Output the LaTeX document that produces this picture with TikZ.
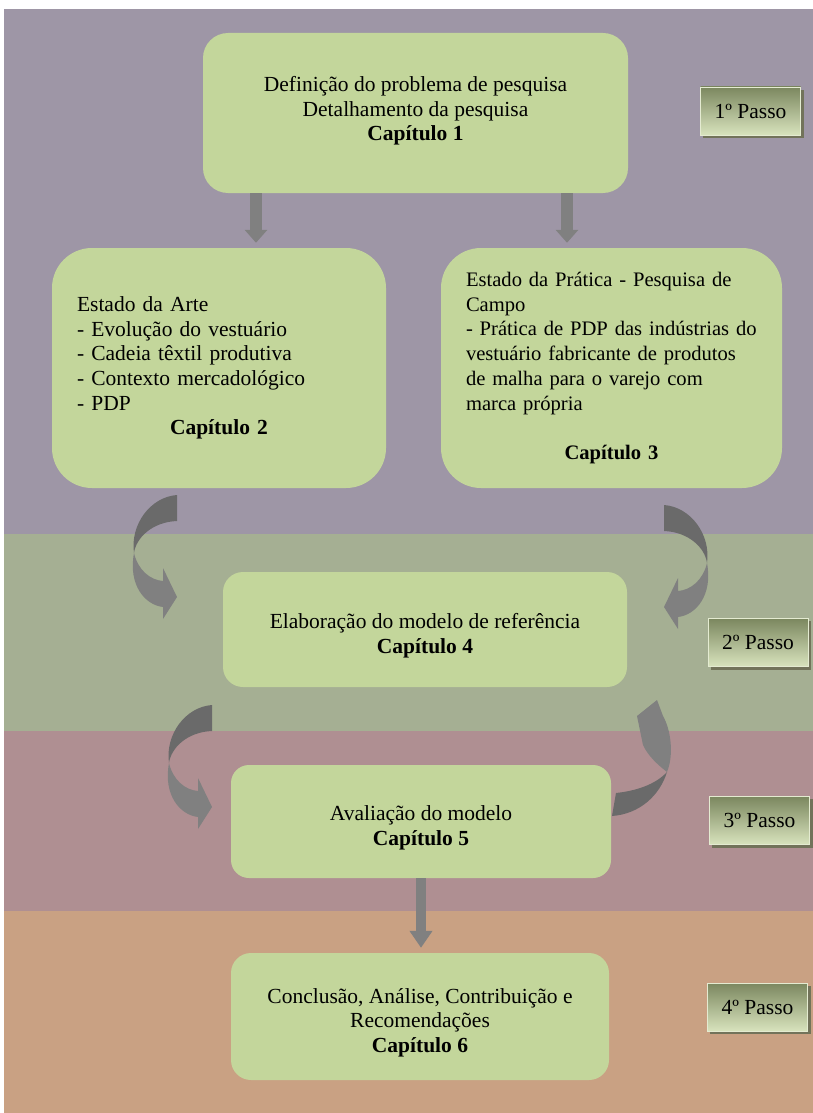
\documentclass[tikz,border=0pt]{standalone}
\usepackage{fontspec}
\setmainfont{Liberation Serif}
\usetikzlibrary{arrows.meta,backgrounds}

\definecolor{bandA}{HTML}{9E96A6}
\definecolor{bandB}{HTML}{A5AF93}
\definecolor{bandC}{HTML}{AF8F92}
\definecolor{bandD}{HTML}{C9A183}
\definecolor{boxfill}{HTML}{C3D69B}
\definecolor{arrowgray}{HTML}{808080}
\definecolor{arrowdark}{HTML}{6A6A6A}
\definecolor{steptop}{HTML}{7B875F}
\definecolor{stepbot}{HTML}{D8E3BD}
\definecolor{stepshadow}{HTML}{72735A}

% folded ribbon arrow in local coordinates (y grows downwards):
% light front part ending in the head, dark back part on top
\newcommand\ribbonarrow{%
  \fill[arrowgray] (-43,58) .. controls (-39,75) and (-27,85) .. (-14,86)
    -- (-14,73) -- (0,102) -- (-14,124) -- (-14,112)
    .. controls (-32,110) and (-49,90) .. (-43,58) -- cycle;
  \fill[arrowdark] (0,0) -- (0,26) .. controls (-25,27) and (-41,43) .. (-43,58)
    .. controls (-47,30) and (-27,2) .. (0,0) -- cycle;
}
% invisible struts that push a text block down or up inside its box
\newcommand\topstrut{\rule{0pt}{27pt}}
\newcommand\botstrut{\rule[-9pt]{0pt}{9pt}}

\begin{document}
\begin{tikzpicture}[x=1pt,y=-1pt,
  txt/.style={font=\fontsize{21.5}{24.7}\selectfont},
  smalltxt/.style={font=\fontsize{20.6}{24.7}\selectfont},
  stagebox/.style={txt, fill=boxfill, inner sep=0pt},
  passo/.style={txt, rectangle, minimum width=100pt, minimum height=48pt,
    inner sep=0pt, top color=steptop, bottom color=stepbot,
    draw=stepbot!70!white, line width=0.6pt},
  flow/.style={draw=arrowgray, line width=11.5pt, -{Triangle[width=22pt,length=13pt]}},
  flowlong/.style={draw=arrowgray, line width=10.5pt, -{Triangle[width=22pt,length=17pt]}},
]
\useasboundingbox (0,0) rectangle (813,1113);

% horizontal bands, one per step
\begin{scope}[on background layer]
  \fill[bandA] (4,9) rectangle (813,534);
  \fill[bandB] (4,534) rectangle (813,731);
  \fill[bandC] (4,731) rectangle (813,911);
  \fill[bandD] (4,911) rectangle (813,1113);
\end{scope}

% chapter boxes
\node[stagebox, rounded corners=25pt, minimum width=425pt, minimum height=160pt, align=center]
  (def) at (415.5,113)
  {Definição do problema de pesquisa\\Detalhamento da pesquisa\\\textbf{Capítulo 1}\botstrut};

\node[stagebox, rounded corners=40pt, minimum width=334pt, minimum height=240pt,
  text width=284pt, align=left] (arte) at (219,368)
  {Estado da Arte\\- Evolução do vestuário\\- Cadeia têxtil produtiva\\- Contexto mercadológico\\- PDP\par
   \centerline{\textbf{Capítulo 2}}};

\node[stagebox, smalltxt, rounded corners=40pt, minimum width=341pt, minimum height=240pt,
  text width=291pt, align=left] (prat) at (611.5,368)
  {Estado da Prática - Pesquisa de\\Campo\\\mbox{- Prática de PDP das indústrias do}\\vestuário fabricante de produtos\\de malha para o varejo com\\marca própria\par
   \vspace{24.7pt}\centerline{\textbf{Capítulo 3}}};

\node[stagebox, rounded corners=20pt, minimum width=404pt, minimum height=115pt, align=center]
  (modelo) at (425,629.5)
  {\topstrut Elaboração do modelo de referência\\\textbf{Capítulo 4}};

\node[stagebox, rounded corners=18pt, minimum width=380pt, minimum height=113pt, align=center]
  (aval) at (421,821.5)
  {\topstrut Avaliação do modelo\\\textbf{Capítulo 5}};

\node[stagebox, rounded corners=20pt, minimum width=378pt, minimum height=127pt, align=center]
  (conc) at (420,1016.5)
  {\topstrut Conclusão, Análise, Contribuição e\\Recomendações\\\textbf{Capítulo 6}};

% step labels
\node[passo] (p1) at (750.5,111) {1º Passo};
\node[passo] (p2) at (758,642.5) {2º Passo};
\node[passo] (p3) at (759.5,820.5) {3º Passo};
\node[passo] (p4) at (757.5,1007) {4º Passo};

\begin{scope}[on background layer]
  \foreach \p in {p1,p2,p3,p4}
    \fill[stepshadow] ([shift={(3pt,-3pt)}]\p.south west) rectangle ([shift={(3pt,-3pt)}]\p.north east);
\end{scope}

% straight arrows
\draw[flow] ([xshift=-159.5pt]def.south) -- ([xshift=37pt,yshift=5pt]arte.north);
\draw[flow] ([xshift=151.5pt]def.south) -- ([xshift=-44.5pt,yshift=5pt]prat.north);
\draw[flowlong] (aval.south) -- ([xshift=1pt,yshift=5pt]conc.north);

% curved arrows between the bands
\begin{scope}[shift={(177,495)}] \ribbonarrow \end{scope}
\begin{scope}[shift={(664,505)}, xscale=-1] \ribbonarrow \end{scope}
\begin{scope}[shift={(212,705)}] \ribbonarrow \end{scope}

% upward ribbon from the evaluation box back to the model
\fill[arrowgray] (667,772) .. controls (658,765) and (648,756) .. (643,745)
  -- (637,716) -- (657,700) -- (663,716)
  .. controls (671,730) and (674,755) .. (667,772) -- cycle;
\fill[arrowdark] (612,816) -- (616,793) .. controls (635,791) and (655,785) .. (667,772)
  .. controls (660,795) and (640,814) .. (612,816) -- cycle;
\end{tikzpicture}
\end{document}
